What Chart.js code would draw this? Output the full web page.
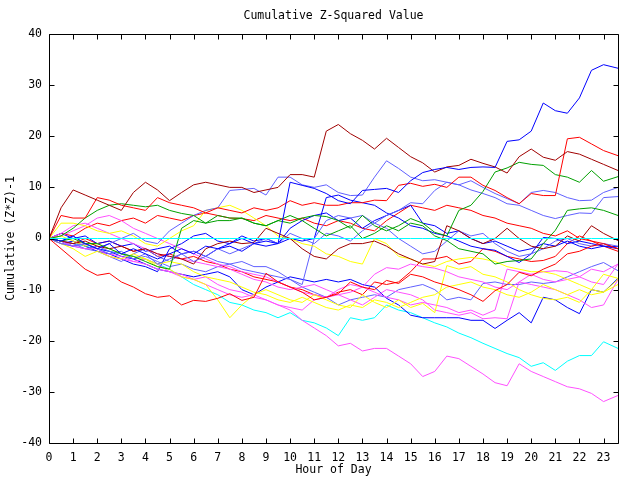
<!DOCTYPE html>
<html>
<head>
<meta charset="utf-8">
<script src="https://cdn.jsdelivr.net/npm/chart.js@4.4.0/dist/chart.umd.min.js"></script>
<style>
  html, body { margin: 0; padding: 0; background: #fff; }
  canvas { display: block; }
</style>
</head>
<body>
<canvas id="chart" width="640" height="480"></canvas>
<script>
// hour of day for every sample (half hour steps, last one at the right edge)
const hours = [
  0,0.5,1,1.5,2,2.5,3,3.5,4,4.5,5,5.5,6,6.5,7,7.5,
  8,8.5,9,9.5,10,10.5,11,11.5,12,12.5,13,13.5,14,14.5,15,15.5,
  16,16.5,17,17.5,18,18.5,19,19.5,20,20.5,21,21.5,22,22.5,23,23.6
]
const xTicks = [0,1,2,3,4,5,6,7,8,9,10,11,12,13,14,15,16,17,18,19,20,21,22,23]
const yTicks = [-40, -30, -20, -10, 0, 10, 20, 30, 40]
const chartTitle = 'Cumulative Z-Squared Value'

const cyanFlat = [
  0,0,0,0,0,0,0,0,0,0,0,0,0,0,0,0,
  0,0,0,0,0,0,0,0,0,0,0,0,0,0,0,0,
  0,0,0,0,0,0,0,0,0,0,0,0,0,0,0,0
]
const blueA = [
  0,-0.5, 0.5,-1, -2,-1, -3,-2, -3,-4, -3,-2, -3,-1.5, -2,-1,
  0,-1, -0.5,-1, 11,10.4, 9.8,8.8, 7.4,6.8, 9.4,9.6, 9.8,9, 11.3,12.9,
  13.5,13.9, 13.5,13.9, 14,13.9, 19,19.3, 21,26.5, 25,24.5, 27.5,32.9, 34,33.3
]
const darkRedA = [
  0,6, 9.5,8.5, 7.5,6.5, 5.5,9, 11,9.5, 7.4,9, 10.5,11, 10.5,10,
  10,9, 9.5,10, 12.5,12.5, 12,21, 22.3,20.5, 19.2,17.5, 19.6,17.8, 16,14.8,
  13,14, 14.3,15.5, 14.7,14, 12.8,16, 17.5,15.9, 15.3,17, 16.5,15.5, 14.5,13.3
]
const redA = [
  0,4.5, 4,4, 8,7.5, 6.5,6, 5.5,8, 7,6.5, 6,5, 6,5.5,
  5,6, 5.5,6, 7.4,6.5, 7,6.5, 6.5,7, 7,7.5, 7.4,10.4, 10.8,10.2,
  10.6,10, 12,12, 10.4,9.4, 8,6.8, 8.8,8.4, 8.4,19.5, 19.8,18.5, 17.2,16.2
]
const greenA = [
  0,0.5, 2,4, 5.5,6.5, 6.8,6.5, 6.2,6.5, 5.5,4.9, 4.5,3, 3.5,3.5,
  4,3, 2.5,3.5, 3,4, 4.5,4.3, 3.5,2, 4.5,2.5, 1.5,2.5, 3.9,3,
  1.2,0.5, 5.5,6.5, 9.2,13, 13.8,14.9, 14.5,14.3, 12.5,12, 11,13.3, 11.2,12.1
]
const greenB = [
  0,-0.5, 0,-1, -1,-2, -3,-3.5, -4.5,-5.5, -6,2, 3.5,3, 4.5,4,
  4,3, 2.5,3.5, 4.5,3.5, 2,0.5, 1.5,2.5, 0,1, 2.5,1.5, 3,2.5,
  0.5,-0.4, -2,-2.5, -3,-5, -4.5,-4.3, -4,-1, 1.6,5.5, 5.8,6, 5.5,4.5
]
const lightBlueA = [
  0,-0.5, 0.5,-1, -2,-1, 0,1, -0.5,-1, 1.5,3, 4.5,5.5, 6,9.4,
  9.6,9.8, 8.5,12, 12,10.5, 10,10.5, 9,8.4, 8.5,12, 15.2,13.7, 12,11.3,
  11.5,11, 10.5,11.3, 10,8.8, 7.8,6.8, 9,9.4, 9,8, 7.4,7.5, 9,10
]
const lightBlueB = [
  0,-1, -1.5,-1, -2,-3, -2.5,-4, -3,-5, -4,-3, -4.5,-3.5, -2,-3,
  -2,-1, 0,-1, 1,0, -1,1, 0.5,-0.5, 1.5,3, 4.5,5.5, 7,6.8,
  9.4,11, 10.5,9.5, 8.8,8, 6.8,6.5, 5.5,4.5, 3.9,4.5, 5,4.9, 8,8.2
]
const darkRedB = [
  0,-0.5, -1,-0.5, -1.5,-2, -1.5,-2.5, -2,-3, -3.5,-4, -5,-2, -1,-0.5,
  -1,-0.8, 2,1, 0,-2, -3.5,-4, -2,-1, -1,-0.5, -1.5,-3, -4,-5,
  -4.5,2.5, 1.5,0, -1,0, 2,0, -1.5,-2, -1.5,0.5, -0.5,2.5, 1,-0.4
]
const redLow = [
  0,-2, -4,-6, -7.2,-6.8, -8.5,-9.5, -10.8,-11.5, -11.2,-13, -12.1,-12.3, -11.7,-10.8,
  -12.1,-11.5, -6.8,-8.5, -9.5,-10.5, -12,-11.5, -10.8,-8.5, -9.5,-10, -8.2,-8.8, -7,-7.5,
  -8.5,-9.2, -10,-11, -12.3,-10.2, -9,-6.6, -7.3,-6, -5,-3, -2.5,-1.5, -1,-2
]
const yellowA = [
  0,3, 3,2.5, 1.5,1, 1.5,0.5, -1,-1.5, 0,1.5, 2.5,5.5, 6,6.5,
  5.5,4, 2.5,0.5, 0,-1, -1.5,-3, -3.5,-4.5, -5,0, -1,-3.5, -4,-5,
  -5.5,-4.5, -4,-3.7, -4,-4.5, -5.5,-6, -6.5,-6.5, -7,-8, -9,-10, -7,-7.8
]
const yellowB = [
  0,-1, -2,-3.5, -2.5,-3.5, -4,-3, -4,-5.5, -6,-7.5, -8,-9, -12,-15.5,
  -13,-11, -10,-11, -12,-12.5, -11,-12, -13,-13.5, -11,-12.5, -13.5,-12, -13.5,-12.7,
  -14.5,-5.3, -6,-5.5, -7,-7.5, -8.5,-10, -11,-11.7, -12,-11.5, -12.5,-10, -10.5,-8
]
const yellowC = [
  0,0.5, -0.5,-1.5, -1,-2, -3,-3.5, -4,-5, -4.5,-5, -6.5,-7.5, -8,-8.5,
  -9.5,-10.5, -11,-12, -12.5,-11.5, -12.5,-13.5, -14,-13, -13.5,-12, -12.5,-13.5, -12.5,-11.5,
  -11,-9.5, -9,-8.5, -9.5,-10, -11,-11.5, -10.5,-9, -10,-11, -10,-11, -10.5,-9
]
const magentaLow = [
  0,-1, -1.5,-2, -2,-3.5, -4,-4.5, -5,-6, -6.5,-7, -8,-9, -10,-11,
  -11.5,-11, -12,-13, -14,-16, -17.5,-19, -21,-20.5, -22,-21.5, -21.5,-23, -24.5,-27,
  -26,-23, -23.5,-25, -26.5,-28.2, -28.8,-24.5, -26,-27, -28,-29, -29.4,-30.3, -31.9,-30.7
]
const magentaA = [
  0,0.5, 1.5,2.5, 4,4.5, 3.5,2, 1,0, -1,-2, -3,-4, -5,-5.5,
  -6.5,-7, -7.5,-8.5, -9.5,-10.5, -11,-11.5, -10,-9, -9.5,-10.5, -11.5,-12, -13,-12.5,
  -13,-13.5, -14.5,-14, -15,-14, -6,-6.5, -7,-8, -8.5,-8, -7.5,-6, -6.5,-5
]
const magentaB = [
  0,-0.5, -1.5,-1, -2,-3, -3.5,-4.5, -4,-5, -6.5,-7.5, -8,-7.5, -9,-10,
  -10.5,-11.5, -12,-13, -13.5,-14, -12,-11.5, -11,-12, -13,-11.5, -10,-10.5, -11,-12,
  -14,-14.5, -15,-14.5, -15.7,-15.5, -15.7,-8.5, -9,-9.5, -10,-11, -12,-13.5, -13,-8
]
const magentaC = [
  0,1, 2.5,3, 2,1, 0,-1, -2,-3, -3.5,-4, -4.5,-5, -5.5,-6,
  -7,-8, -8.5,-9.5, -10,-9.5, -9,-10, -11,-10.5, -9.5,-7, -5.7,-6, -5,-5.5,
  -5.8,-6.5, -7.5,-8, -8.5,-9.5, -10,-8.5, -7,-6.5, -6.3,-6.5, -7.5,-8.5, -9,-5
]
const lightBlueC = [
  0,-1, -1.5,-2, -2.5,-3.5, -4.5,-3, -2,-3.5, -4.5,-3, -2.5,-3.5, -4.5,-5,
  -4.5,-5.5, -5.5,-6.5, -8,-9.5, -10.5,-11.5, -13,-12, -11.5,-11, -11.5,-10, -9.5,-9,
  -10,-12, -11.5,-12, -8.8,-8.5, -9,-9, -8.5,-8.8, -8.5,-7.5, -6.5,-5.5, -4.7,-6.3
]
const lightBlueD = [
  0,-0.5, -1,-2, -1.5,-2.5, -3,-4, -3.5,-4.5, -5.5,-5, -6,-6.5, -5.5,-5,
  -6,-6.5, -7,-7.5, -8,-9, 0,3.5, 4.5,4, 4.5,3, 2,0, -1.5,-3,
  -2.5,-0.5, 1.5,0.5, 1,-1, -2.5,-3.5, -3,-2, -0.5,0, -1,-1.5, -1,-1.5
]
const blueB = [
  0,1, 0,0.5, -1,-0.5, -1.5,-1, -2.5,-2, -1.5,-3, -2.5,-3.5, -2,-1.5,
  -2.5,-1, -1.5,-1, 0,-0.5, 0,8, 8.5,7.5, 7,6.5, 5,4, 2.5,2,
  1,0.5, -0.5,-1.5, -2,-2.3, -3.5,-4.7, -3,0.2, 0,-1, -0.5,-1, -1.5,-1.6
]
const blueC = [
  0,-0.5, -1.5,-1, -2,-2.5, -3.5,-4, -5,-6, -6.5,-7, -7.5,-7, -6.5,-7.5,
  -10,-11, -9.5,-8.5, -7.5,-8, -8.5,-8, -8.5,-8, -9,-9.5, -11.7,-13, -15,-15.5,
  -15.5,-15.5, -15.5,-16, -16,-17.6, -16,-14.5, -16.5,-11.5, -12,-13.5, -14.7,-10, -10.5,-7.8
]
const blueD = [
  0,-1, -0.5,-1.5, -2.5,-3, -4,-5, -5.5,-6.5, -2,-1, 0.5,1, -0.5,-1,
  0.5,-0.5, 0,-1, 2,3.5, 4.5,5, 3.5,4, 2,3.5, 4.5,5.5, 6.5,3,
  2.5,1, 1.5,0, -1,-0.5, -1.5,-2.5, -2,-1, -1.5,-0.5, -1.5,-2, -1.5,-2
]
const redB = [
  0,-0.5, -1,0, -1,-0.5, -1.5,-2.5, -2,-3.5, -3,-4, -3.5,-4.5, -5,-6,
  -6.5,-7.5, -8,-8.5, -9.5,-10, -11,-11.5, -10.5,-10, -11,-8.5, -9,-8.5, -6.5,-4,
  -4,-3.5, -5,-4.5, -2,-2.5, -3.5,-4, -4.5,-4.3, -3.5,-1, 0.5,-0.5, -1.5,-2.5
]
const redC = [
  0,1, 0.5,2, 3,2.5, 3.5,4, 3,4.5, 4,3.5, 4.5,5, 4.5,4,
  3.9,3.5, 4.5,4, 3.5,4, 3,2.5, 3.5,3, 2,1.5, 3.5,5, 6.5,6,
  5.5,6.5, 6,5.5, 4.5,4, 3,2.5, 2,1, 0.5,1.5, 0,-0.5, -1,-2
]
const cyanB = [
  0,-0.5, -1,-1.5, -2,-2.5, -3,-3.5, -4,-5, -6,-7.5, -9,-10, -11,-12.5,
  -13,-14, -14.5,-15.5, -14.5,-16, -16.5,-17.5, -19,-15.5, -16,-15.5, -13,-14, -14.5,-15.5,
  -16.5,-17.3, -18.5,-19.4, -20.5,-21.5, -22.5,-23.3, -25,-24.3, -25.8,-24, -22.9,-22.9, -20.2,-21.5
]

const RED = '#ff0000', DARKRED = '#a00000', BLUE = '#0000ff', LIGHTBLUE = '#6060ff'
const GREEN = '#00a000', YELLOW = '#ffff00', MAGENTA = '#ff50ff', CYAN = '#00ffff'

// first one is drawn on top
const series = [
  [cyanFlat, CYAN], [blueA, BLUE], [darkRedA, DARKRED], [redA, RED],
  [greenA, GREEN], [greenB, GREEN], [lightBlueA, LIGHTBLUE], [lightBlueB, LIGHTBLUE],
  [darkRedB, DARKRED], [redLow, RED], [yellowA, YELLOW], [yellowB, YELLOW],
  [yellowC, YELLOW], [magentaLow, MAGENTA], [magentaA, MAGENTA], [magentaB, MAGENTA],
  [magentaC, MAGENTA], [lightBlueC, LIGHTBLUE], [lightBlueD, LIGHTBLUE], [blueB, BLUE],
  [blueC, BLUE], [blueD, BLUE], [redB, RED], [redC, RED], [cyanB, CYAN]
]

const FONT = "'DejaVu Sans Mono', monospace"

// border box, inward tick marks on all four sides, title over the plot area
const frame = {
  id: 'frame',
  afterDatasetsDraw(chart) {
    const {ctx, chartArea: a, scales: {x, y}} = chart
    const L = Math.floor(a.left) + 0.5, R = Math.floor(a.right) + 0.5
    const T = Math.floor(a.top) + 0.5, B = Math.floor(a.bottom) + 0.5
    ctx.save()
    ctx.strokeStyle = '#000'
    ctx.lineWidth = 1
    ctx.beginPath()
    ctx.rect(L, T, R - L, B - T)
    x.ticks.forEach(t => {
      const px = Math.round(x.getPixelForValue(t.value)) + 0.5
      ctx.moveTo(px, B); ctx.lineTo(px, B - 5)
      ctx.moveTo(px, T); ctx.lineTo(px, T + 5)
    })
    y.ticks.forEach(t => {
      const py = Math.round(y.getPixelForValue(t.value)) + 0.5
      ctx.moveTo(L, py); ctx.lineTo(L + 5, py)
      ctx.moveTo(R, py); ctx.lineTo(R - 5, py)
    })
    ctx.stroke()
    ctx.fillStyle = '#000'
    ctx.font = '11.5px ' + FONT
    ctx.textAlign = 'center'
    ctx.textBaseline = 'middle'
    ctx.fillText(chartTitle, (a.left + a.right) / 2, 16)
    ctx.restore()
  }
}

Chart.defaults.font.family = FONT
Chart.defaults.font.size = 11.5
Chart.defaults.color = '#000'

const ctx = document.getElementById('chart').getContext('2d')
const chart = new Chart(ctx, {
  type: 'line',
  data: {
    datasets: series.map(([vals, color]) => ({
      data: hours.map((h, i) => ({x: h, y: vals[i]})),
      borderColor: color,
      borderWidth: 1,
      pointRadius: 0,
      tension: 0,
      fill: false
    }))
  },
  options: {
    responsive: false,
    animation: false,
    devicePixelRatio: 1,
    layout: { padding: { left: 0, right: 22, top: 34, bottom: 0 } },
    plugins: {
      legend: { display: false },
      tooltip: { enabled: false },
      title: { display: false }
    },
    scales: {
      x: {
        type: 'linear',
        min: 0,
        max: 23.6,
        grid: { display: false, drawTicks: false, tickLength: 0 },
        border: { display: false },
        afterBuildTicks: s => { s.ticks = xTicks.map(v => ({value: v})) },
        afterFit: s => { s.height = 37 },
        ticks: { maxRotation: 0, autoSkip: false, padding: 8, color: '#000' },
        title: { display: true, text: 'Hour of Day', color: '#000', padding: { top: 0, bottom: 3 } }
      },
      y: {
        type: 'linear',
        min: -40,
        max: 40,
        grid: { display: false, drawTicks: false, tickLength: 0 },
        border: { display: false },
        afterBuildTicks: s => { s.ticks = yTicks.map(v => ({value: v})) },
        afterFit: s => { s.width = 49 },
        ticks: { padding: 7, color: '#000' },
        title: { display: true, text: 'Cumulative (Z*Z)-1', color: '#000', padding: { top: 4, bottom: 0 } }
      }
    }
  },
  plugins: [frame]
})
</script>
</body>
</html>
